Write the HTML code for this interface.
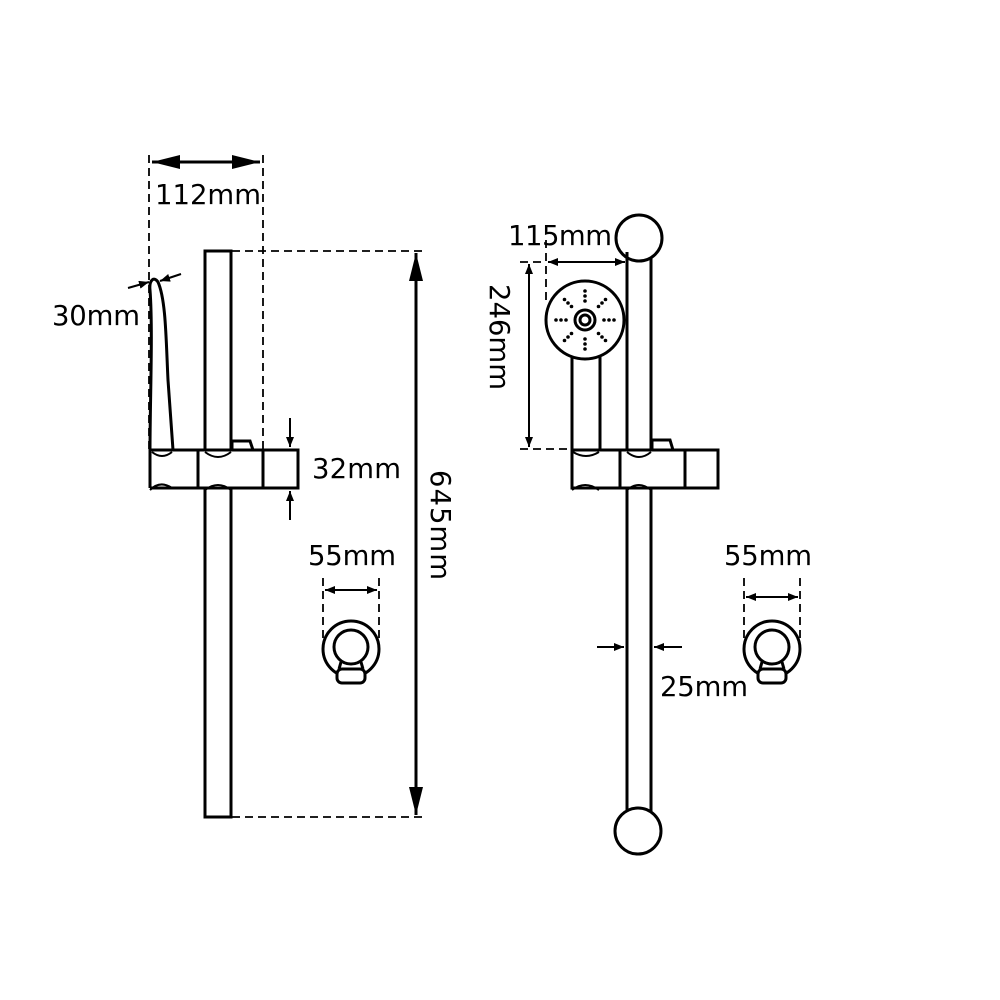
<!DOCTYPE html>
<html><head><style>
html,body{margin:0;padding:0;background:#fff;}
svg{display:block;}
text{font-family:"DejaVu Sans","Liberation Sans",sans-serif;font-size:27.5px;fill:#000;}
</style></head><body>
<svg width="1000" height="1000" viewBox="0 0 1000 1000" xmlns="http://www.w3.org/2000/svg">
<defs>
<marker id="a" markerWidth="10" markerHeight="8" refX="10" refY="4" orient="auto" markerUnits="userSpaceOnUse" viewBox="0 0 10 8">
<path d="M0,0 L10,4 L0,8 z" fill="#000"/></marker>
<marker id="b" markerWidth="28" markerHeight="14" refX="28" refY="7" orient="auto" markerUnits="userSpaceOnUse" viewBox="0 0 28 14">
<path d="M0,0 L28,7 L0,14 z" fill="#000"/></marker>
</defs>
<g fill="none" stroke="#000" stroke-width="3">
<!-- LEFT -->
<g stroke-dasharray="8,5" stroke-width="1.8">
<line x1="149" y1="155" x2="149" y2="450"/>
<line x1="263" y1="155" x2="263" y2="450"/>
<line x1="232" y1="251" x2="427" y2="251"/>
<line x1="232" y1="817" x2="427" y2="817"/>
<line x1="323" y1="578" x2="323" y2="640"/>
<line x1="379" y1="578" x2="379" y2="640"/>
</g>
<line x1="180" y1="162" x2="152" y2="162" marker-end="url(#b)" stroke-width="3"/>
<line x1="232" y1="162" x2="260" y2="162" marker-end="url(#b)" stroke-width="3"/>
<line x1="180" y1="162" x2="232" y2="162" stroke-width="3"/>
<line x1="416" y1="290" x2="416" y2="253" marker-end="url(#b)" stroke-width="3"/>
<line x1="416" y1="780" x2="416" y2="815" marker-end="url(#b)" stroke-width="3"/>
<line x1="416" y1="285" x2="416" y2="785" stroke-width="3"/>
<!-- rail -->
<path d="M205,450 L205,251 L231,251 L231,450"/>
<path d="M205,488 L205,817 L231,817 L231,488"/>
<!-- tab -->
<path d="M232,450 L232,441 L250,441 L253,450"/>
<!-- handle -->
<path d="M150,450 C150,400 153,330 150,290 C149,280 154,276 158,282 C166,300 166,340 168,380 L173,450"/>
<!-- block -->
<path d="M150,450 L298,450 L298,488 L150,488"/>
<path d="M150,450 L150,488"/>
<line x1="198" y1="450" x2="198" y2="488"/>
<line x1="263" y1="450" x2="263" y2="488"/>
<path d="M152,452 Q162,460 172,452" stroke-width="2"/>
<path d="M205,452 Q218,462 231,452" stroke-width="2"/>
<path d="M150,490 Q160,480 172,488" stroke-width="2"/>
<path d="M205,490 Q218,480 231,490" stroke-width="2"/>
<!-- 30mm arrows -->
<line x1="128" y1="288" x2="149" y2="282" marker-end="url(#a)" stroke-width="2"/>
<line x1="181" y1="274" x2="160" y2="281" marker-end="url(#a)" stroke-width="2"/>
<!-- 32mm arrows -->
<line x1="290" y1="418" x2="290" y2="447" marker-end="url(#a)" stroke-width="2"/>
<line x1="290" y1="520" x2="290" y2="491" marker-end="url(#a)" stroke-width="2"/>
<!-- 55mm -->
<line x1="340" y1="590" x2="325" y2="590" marker-end="url(#a)" stroke-width="2"/>
<line x1="362" y1="590" x2="377" y2="590" marker-end="url(#a)" stroke-width="2"/>
<line x1="335" y1="590" x2="367" y2="590" stroke-width="2"/>
<circle cx="351" cy="649" r="28"/>
<circle cx="351" cy="647" r="17"/>
<path d="M341,662 L339,669 M361,662 L363,669"/>
<rect x="337" y="669" width="28" height="14" rx="5" fill="#fff"/>

<!-- RIGHT -->
<g stroke-dasharray="8,5" stroke-width="1.8">
<line x1="546" y1="240" x2="546" y2="300"/>
<line x1="520" y1="262" x2="546" y2="262"/>
<line x1="520" y1="449" x2="572" y2="449"/>
<line x1="744" y1="578" x2="744" y2="640"/>
<line x1="800" y1="578" x2="800" y2="640"/>
</g>
<line x1="560" y1="262" x2="548" y2="262" marker-end="url(#a)" stroke-width="2"/>
<line x1="610" y1="262" x2="625" y2="262" marker-end="url(#a)" stroke-width="2"/>
<line x1="555" y1="262" x2="615" y2="262" stroke-width="2"/>
<line x1="529" y1="280" x2="529" y2="264" marker-end="url(#a)" stroke-width="2"/>
<line x1="529" y1="430" x2="529" y2="447" marker-end="url(#a)" stroke-width="2"/>
<line x1="529" y1="275" x2="529" y2="435" stroke-width="2"/>
<!-- rail -->
<path d="M627,450 L627,253 M651,450 L651,253"/>
<path d="M627,488 L627,812 M651,488 L651,812"/>
<circle cx="639" cy="238" r="23" fill="#fff"/>
<line x1="627" y1="252" x2="627" y2="260"/>
<circle cx="638" cy="831" r="23"/>
<!-- tab -->
<path d="M652,450 L652,440 L670,440 L673,450"/>
<!-- handle tube -->
<line x1="572" y1="355" x2="572" y2="450"/>
<line x1="600" y1="355" x2="600" y2="450"/>
<circle cx="585" cy="320" r="39" fill="#fff"/>
<circle cx="585" cy="320" r="10"/>
<circle cx="585" cy="320" r="5"/>
<!-- block -->
<path d="M572,450 L718,450 L718,488 L572,488 Z"/>
<line x1="620" y1="450" x2="620" y2="488"/>
<line x1="685" y1="450" x2="685" y2="488"/>
<path d="M573,452 Q586,460 599,452" stroke-width="2"/>
<path d="M627,452 Q639,462 651,452" stroke-width="2"/>
<path d="M572,490 Q585,480 599,490" stroke-width="2"/>
<path d="M627,490 Q639,480 651,490" stroke-width="2"/>
<!-- 25mm -->
<line x1="597" y1="647" x2="624" y2="647" marker-end="url(#a)" stroke-width="2"/>
<line x1="682" y1="647" x2="654" y2="647" marker-end="url(#a)" stroke-width="2"/>
<!-- 55mm -->
<line x1="760" y1="597" x2="746" y2="597" marker-end="url(#a)" stroke-width="2"/>
<line x1="784" y1="597" x2="798" y2="597" marker-end="url(#a)" stroke-width="2"/>
<line x1="755" y1="597" x2="789" y2="597" stroke-width="2"/>
<circle cx="772" cy="649" r="28"/>
<circle cx="772" cy="647" r="17"/>
<path d="M762,662 L760,669 M782,662 L784,669"/>
<rect x="758" y="669" width="28" height="14" rx="5" fill="#fff"/>
</g>
<!-- dots on head -->
<g fill="#000">
<circle cx="556" cy="320" r="1.8"/><circle cx="561" cy="320" r="1.8"/><circle cx="566" cy="320" r="1.8"/>
<circle cx="614" cy="320" r="1.8"/><circle cx="609" cy="320" r="1.8"/><circle cx="604" cy="320" r="1.8"/>
<circle cx="585" cy="291" r="1.8"/><circle cx="585" cy="296" r="1.8"/><circle cx="585" cy="301" r="1.8"/>
<circle cx="585" cy="349" r="1.8"/><circle cx="585" cy="344" r="1.8"/><circle cx="585" cy="339" r="1.8"/>
<circle cx="564.5" cy="299.5" r="1.8"/><circle cx="568" cy="303" r="1.8"/><circle cx="571.5" cy="306.5" r="1.8"/>
<circle cx="605.5" cy="299.5" r="1.8"/><circle cx="602" cy="303" r="1.8"/><circle cx="598.5" cy="306.5" r="1.8"/>
<circle cx="564.5" cy="340.5" r="1.8"/><circle cx="568" cy="337" r="1.8"/><circle cx="571.5" cy="333.5" r="1.8"/>
<circle cx="605.5" cy="340.5" r="1.8"/><circle cx="602" cy="337" r="1.8"/><circle cx="598.5" cy="333.5" r="1.8"/>
</g>
<text x="155" y="204" textLength="106">112mm</text>
<text x="52" y="325" textLength="88">30mm</text>
<text x="312" y="478" textLength="89">32mm</text>
<text x="308" y="565" textLength="88">55mm</text>
<text transform="translate(431,470) rotate(90)" textLength="110">645mm</text>
<text x="508" y="245" textLength="104">115mm</text>
<text transform="translate(490,284) rotate(90)" textLength="106">246mm</text>
<text x="724" y="565" textLength="88">55mm</text>
<text x="660" y="696" textLength="88">25mm</text>
</svg>
</body></html>
